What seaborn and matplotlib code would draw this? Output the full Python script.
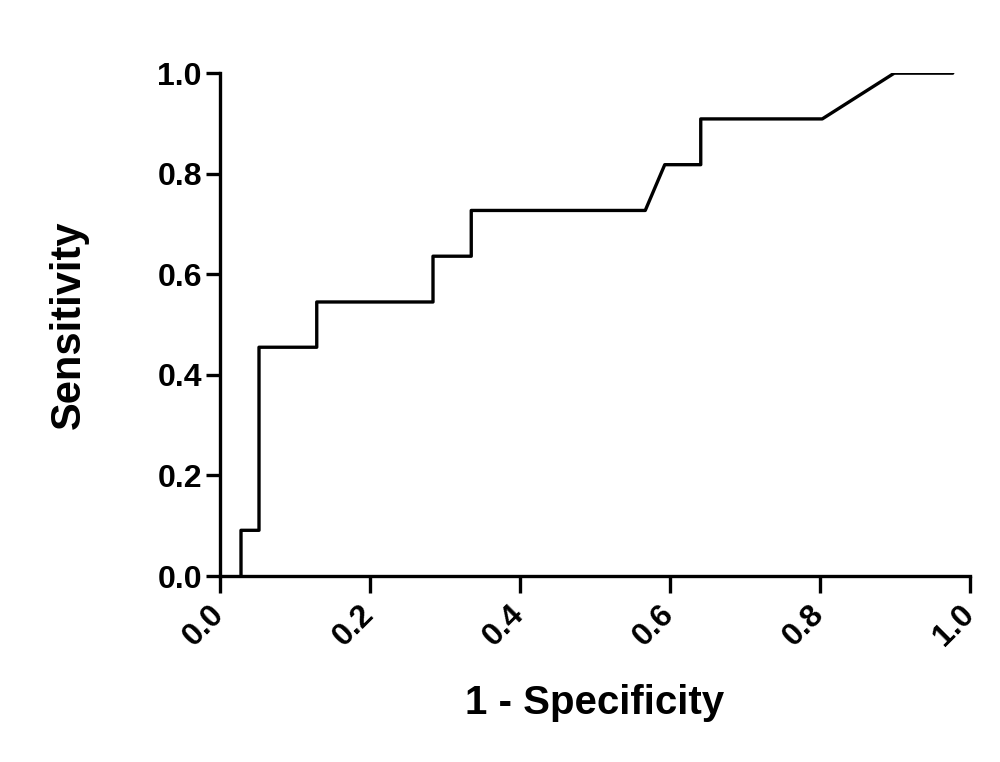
import pandas as pd
import matplotlib.pyplot as plt
import seaborn as sns

# ROC curve points
fpr = [0.028, 0.028, 0.052, 0.052, 0.129, 0.129, 0.284, 0.284, 0.335, 0.335,
       0.567, 0.593, 0.641, 0.641, 0.803, 0.899, 0.977]
tpr = [0.0, 0.091, 0.091, 0.455, 0.455, 0.545, 0.545, 0.636, 0.636, 0.727,
       0.727, 0.818, 0.818, 0.909, 0.909, 1.0, 1.0]
ticks = [0.0, 0.2, 0.4, 0.6, 0.8, 1.0]
tick_labels = ["0.0", "0.2", "0.4", "0.6", "0.8", "1.0"]


def main():
    sns.set_theme(style="ticks")
    plt.rcParams["font.family"] = ["Liberation Sans", "DejaVu Sans"]
    plt.rcParams["font.weight"] = "bold"
    plt.rcParams["text.color"] = "black"
    plt.rcParams["axes.labelcolor"] = "black"
    plt.rcParams["xtick.labelcolor"] = "black"
    plt.rcParams["ytick.labelcolor"] = "black"

    df = pd.DataFrame({"fpr": fpr, "tpr": tpr})

    fig = plt.figure(figsize=(10, 7.62), dpi=100)
    ax = fig.add_axes([0.22, 0.244, 0.75, 0.66])

    sns.lineplot(data=df, x="fpr", y="tpr", sort=False, estimator=None,
                 color="black", linewidth=2.4, ax=ax)

    ax.set_xlim(0, 1)
    ax.set_ylim(0, 1)
    ax.set_xticks(ticks)
    ax.set_yticks(ticks)
    ax.set_xticklabels(tick_labels, rotation=45, ha="right", va="center",
                       rotation_mode="anchor", fontsize=23, fontweight="bold")
    ax.set_yticklabels(tick_labels, fontsize=23, fontweight="bold")
    ax.tick_params(axis="both", direction="out", width=2.4, color="black")
    ax.tick_params(axis="x", length=12, pad=12)
    ax.tick_params(axis="y", length=10, pad=3)

    for side in ["top", "right"]:
        ax.spines[side].set_visible(False)
    for side in ["left", "bottom"]:
        ax.spines[side].set_linewidth(2.4)
        ax.spines[side].set_color("black")

    ax.set_xlabel("1 - Specificity", fontsize=29, fontweight="bold", labelpad=23)
    ax.set_ylabel("Sensitivity", fontsize=30, fontweight="bold", labelpad=49)

    fig.savefig("out.png", dpi=100, facecolor="white")


if __name__ == "__main__":
    main()
